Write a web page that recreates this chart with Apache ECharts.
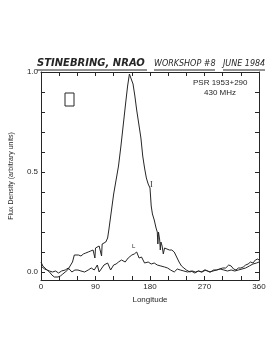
<!DOCTYPE html>
<html><head><meta charset="utf-8">
<script src="https://cdn.jsdelivr.net/npm/echarts@6/dist/echarts.min.js"></script>
<style>html,body{margin:0;padding:0;background:#fff}#c{width:278px;height:360px}</style>
</head><body><div id="c"></div>
<script>
const lonI = [0,3,6,10,14,18,22,25,28,32,36,40,44,48,52,55,58,62,66,70,74,78,82,86,88,89,90,93,96,99,100,101,104,107,110,112,116,120,124,128,132,136,140,143,146,147,149,152,155,158,162,165,168,171,174,177,180,182,184,187,190,192,193,194,196,197,198,200,202,204,208,212,216,220,224,228,232,236,240,246,250,255,260,265,270,275,280,285,290,295,300,305,310,314,318,322,326,330,334,338,342,346,350,354,358,360];
const fluxI = [0.05,0.03,0.02,0.01,0.0,-0.015,-0.025,-0.03,-0.025,-0.02,
  -0.01,0.0,0.01,0.03,0.05,0.085,0.08,0.085,0.08,0.09,
  0.095,0.1,0.105,0.11,0.12,0.07,0.12,0.125,0.13,0.135,
  0.08,0.14,0.145,0.15,0.17,0.21,0.3,0.39,0.46,0.53,
  0.63,0.74,0.85,0.93,0.99,1.0,0.99,0.94,0.88,0.81,
  0.73,0.67,0.58,0.52,0.47,0.44,0.42,0.33,0.29,0.26,
  0.22,0.2,0.14,0.2,0.16,0.11,0.15,0.13,0.09,0.12,
  0.115,0.11,0.11,0.1,0.075,0.05,0.03,0.02,0.01,0.0,
  0.005,0.0,0.005,0.0,0.01,0.005,0.0,0.01,0.01,0.015,
  0.02,0.02,0.035,0.03,0.015,0.01,0.02,0.02,0.025,0.035,
  0.04,0.05,0.045,0.06,0.065,0.06];
const lonL = [0,3,6,10,14,19,24,29,34,40,45,51,56,61,66,72,78,83,88,93,96,99,104,110,115,120,124,128,133,139,144,150,154,158,162,166,171,177,182,187,192,195,198,201,204,209,214,220,225,230,236,242,248,254,260,266,272,278,284,290,296,302,308,314,320,326,332,338,344,350,356,360];
const fluxL = [0.03,0.02,0.015,0.01,0.005,0.0,0.005,-0.005,0.005,0.01,
  0.02,0.0,0.01,0.01,0.005,0.0,0.01,0.02,0.01,0.035,
  0.0,0.0,0.035,0.045,0.01,0.035,0.04,0.05,0.06,0.05,
  0.07,0.085,0.09,0.1,0.07,0.075,0.045,0.05,0.04,0.045,
  0.035,0.045,0.03,0.04,0.025,0.02,0.01,0.0,0.015,0.01,
  0.005,0.0,0.005,-0.005,0.005,0.0,0.01,0.0,0.005,0.01,
  0.015,0.01,0.005,0.01,0.005,0.01,0.015,0.02,0.03,0.04,
  0.045,0.05];
const xTickLabels = [0,90,180,270,360];
const yTickLabels = [0,0.5,1.0];
const yTicks = [0,0.1,0.2,0.3,0.4,0.5,0.6,0.7,0.8,0.9,1.0];

const ink = '#262626';
const chart = echarts.init(document.getElementById('c'), null, {renderer:'canvas'});
const axLine = {onZero:false,lineStyle:{color:ink,width:1}};
chart.setOption({
  animation:false,
  backgroundColor:'#fff',
  grid:{left:35,right:19,top:72,bottom:80,containLabel:false},
  xAxis:[
    {type:'value',min:0,max:360,interval:30,position:'bottom',axisLine:axLine,
     axisTick:{inside:true,length:4,lineStyle:{color:ink}},
     axisLabel:{color:ink,fontSize:8,margin:3,fontFamily:'Liberation Sans',
       formatter:v=>xTickLabels.includes(v)?String(v):''},
     splitLine:{show:false},
     name:'Longitude',nameLocation:'middle',nameGap:15,
     nameTextStyle:{color:ink,fontSize:8,fontFamily:'Liberation Sans'}},
    {type:'value',min:0,max:360,interval:30,position:'top',axisLine:axLine,
     axisTick:{inside:true,length:4,lineStyle:{color:ink}},
     axisLabel:{show:false},splitLine:{show:false}}
  ],
  yAxis:[
    {type:'value',min:-0.04,max:1.0,position:'left',axisLine:axLine,
     axisTick:{inside:true,length:4,customValues:yTicks,lineStyle:{color:ink}},
     axisLabel:{color:ink,fontSize:8,margin:3,fontFamily:'Liberation Sans',
       customValues:yTickLabels,formatter:v=>v.toFixed(1)},
     splitLine:{show:false},
     name:'Flux Density (arbitrary units)',nameLocation:'middle',nameGap:26,nameRotate:90,
     nameTextStyle:{color:ink,fontSize:7,fontFamily:'Liberation Sans'}},
    {type:'value',min:-0.04,max:1.0,position:'right',axisLine:axLine,
     axisTick:{inside:true,length:4,customValues:yTicks,lineStyle:{color:ink}},
     axisLabel:{show:false},splitLine:{show:false}}
  ],
  series:[
    {name:'I',type:'line',xAxisIndex:0,yAxisIndex:0,showSymbol:false,
     lineStyle:{color:ink,width:1},data:lonI.map((x,i)=>[x,fluxI[i]])},
    {name:'L',type:'line',xAxisIndex:0,yAxisIndex:0,showSymbol:false,
     lineStyle:{color:ink,width:1},data:lonL.map((x,i)=>[x,fluxL[i]])}
  ],
  graphic:[
    {type:'text',left:37,top:58,style:{text:'STINEBRING, NRAO',fill:ink,fontSize:10,fontWeight:'bold',fontStyle:'italic',fontFamily:'DejaVu Sans'}},
    {type:'line',shape:{x1:37,y1:70,x2:147,y2:70},style:{stroke:ink,lineWidth:1}},
    {type:'text',left:154,top:60,style:{text:'WORKSHOP #8',fill:ink,fontSize:8,fontStyle:'italic',fontFamily:'DejaVu Sans'}},
    {type:'line',shape:{x1:154,y1:70,x2:215,y2:70},style:{stroke:ink,lineWidth:1}},
    {type:'text',left:223,top:60,style:{text:'JUNE 1984',fill:ink,fontSize:8,fontStyle:'italic',fontFamily:'DejaVu Sans'}},
    {type:'line',shape:{x1:223,y1:70,x2:265,y2:70},style:{stroke:ink,lineWidth:1}},
    {type:'text',left:193,top:79,style:{text:'PSR 1953+290',fill:ink,fontSize:8,fontFamily:'Liberation Sans'}},
    {type:'text',left:204,top:89,style:{text:'430 MHz',fill:ink,fontSize:8,fontFamily:'Liberation Sans'}},
    {type:'rect',shape:{x:65,y:93,width:9,height:13},style:{fill:'none',stroke:ink,lineWidth:1}},
    {type:'text',left:150,top:181,z:100,style:{text:'I',fill:ink,fontSize:8,fontFamily:'Liberation Serif'}},
    {type:'text',left:132,top:243,z:100,style:{text:'L',fill:ink,fontSize:6,fontFamily:'Liberation Sans'}}
  ]
});
</script></body></html>
